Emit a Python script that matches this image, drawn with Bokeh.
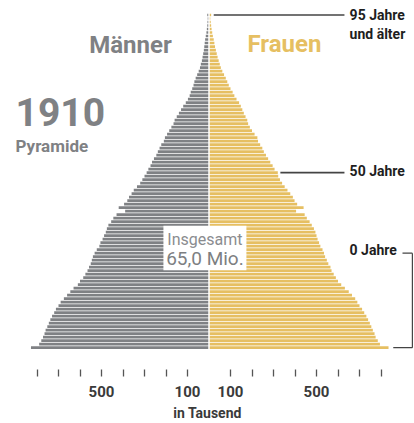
from bokeh.plotting import figure
from bokeh.models import FixedTicker, Label, BoxAnnotation, Span
from bokeh.embed import file_html
from bokeh.resources import INLINE

# ---- data (thousands of people, by age 0..95+) ----
ages = list(range(96))
male = [828, 790, 780, 772, 765, 760, 752, 745, 738, 730,
        720, 712, 700, 690, 675, 660, 645, 630, 610, 600,
        585, 575, 565, 558, 550, 545, 540, 532, 522, 510,
        505, 495, 488, 480, 475, 468, 455, 445, 430, 390,
        420, 395, 380, 372, 360, 350, 335, 320, 310, 300,
        290, 282, 272, 265, 256, 245, 238, 230, 222, 210,
        205, 195, 185, 175, 165, 160, 150, 140, 130, 120,
        108, 98, 90, 85, 78, 72, 68, 62, 55, 48,
        42, 38, 33, 30, 27, 24, 22, 20, 18, 15,
        12, 10, 8, 7, 6, 8]
female = [835, 795, 785, 775, 770, 762, 755, 748, 740, 732,
          722, 712, 700, 690, 680, 665, 650, 632, 615, 600,
          590, 580, 570, 565, 555, 548, 540, 535, 528, 518,
          512, 505, 500, 495, 488, 478, 468, 455, 445, 405,
          440, 410, 398, 390, 378, 365, 352, 340, 330, 322,
          320, 305, 296, 285, 275, 265, 255, 248, 238, 228,
          225, 212, 200, 190, 182, 178, 170, 162, 155, 148,
          140, 128, 118, 110, 100, 92, 85, 78, 70, 62,
          55, 50, 45, 40, 36, 32, 28, 25, 22, 18,
          15, 12, 10, 8, 6, 10]
tick_values = [-800, -700, -600, -500, -400, -300, -200, -100,
               100, 200, 300, 400, 500, 600, 700, 800]
tick_labels = {-500: "500", -100: "100", 100: "100", 500: "500"}
marked_ages = [95, 50, 0]
total_text = "65,0 Mio."

GRAY = "#7f8184"
GOLD = "#e6bf62"
DARK = "#1e1e1e"
FONT = "Roboto"

W, H = 414, 423
PX = 0.215          # px per thousand
CX = 208.5          # frame px of zero
FH = 372            # expected frame height
Y0 = 350            # frame px (from top) of age 0
PY = 3.53           # px per year

p = figure(width=W, height=H, output_backend="svg", toolbar_location=None,
           x_range=(-CX / PX, (W - CX) / PX),
           y_range=(-(FH - Y0) / PY, Y0 / PY),
           y_axis_location=None, min_border=0,
           outline_line_color=None, background_fill_color="white")
p.xgrid.visible = False
p.ygrid.visible = False

p.hbar(y=ages, left=[-v for v in male], right=0, height=0.76,
       color=GRAY, line_color=None)
p.hbar(y=ages, left=0, right=female, height=0.76,
       color=GOLD, line_color=None)
p.add_layout(Span(location=0, dimension="height", line_color="white",
                  line_width=1.5))

# axis
ax = p.xaxis[0]
ax.ticker = FixedTicker(ticks=tick_values)
ax.major_label_overrides = {v: tick_labels.get(v, "") for v in tick_values}
ax.axis_line_color = None
ax.minor_tick_line_color = None
ax.major_tick_in = 0
ax.major_tick_out = 7
ax.major_tick_line_color = "#555555"
ax.major_tick_line_width = 1.3
ax.major_label_standoff = 9
ax.major_label_text_font = FONT
ax.major_label_text_font_style = "bold"
ax.major_label_text_font_size = "15px"
ax.major_label_text_color = "#3a3a3a"
ax.axis_label = "in Tausend"
ax.axis_label_standoff = 5
ax.axis_label_text_font = FONT
ax.axis_label_text_font_style = "bold"
ax.axis_label_text_font_size = "14px"
ax.axis_label_text_color = "#3a3a3a"

def lab(x, y, t, size, color, align="left", style="bold"):
    p.add_layout(Label(x=x, y=y, text=t, text_font=FONT, text_font_size=size,
                       text_color=color, text_font_style=style,
                       text_align=align, text_baseline="middle"))

lab(-365, 86.4, "Männer", "24px", GRAY, "center")
lab(351, 86.6, "Frauen", "24px", GOLD, "center")
lab(-900, 67.3, "1910", "39px", GRAY)
lab(-900, 57.5, "Pyramide", "17px", GRAY)

# total box
p.add_layout(BoxAnnotation(left=-212, right=174, bottom=22.1, top=34.8,
                           fill_color="white", fill_alpha=1, line_color=None))
lab(-19, 31.0, "Insgesamt", "16px", "#8a8c8f", "center", "normal")
lab(-19, 25.5, total_text, "19px", "#7d7f82", "center", "normal")

# right-hand age markers
a95, a50, a0 = marked_ages
p.segment(x0=[female[a95] + 12, female[a50] + 12], y0=[a95, a50],
          x1=[630, 630], y1=[a95, a50], line_color="#444444", line_width=1.6)
lab(654, 94.9, "95 Jahre", "14px", DARK)
lab(654, 89.7, "und älter", "14px", DARK)
lab(654, a50 + 0.4, "50 Jahre", "14px", DARK)
lab(654, 27.8, "0 Jahre", "14px", DARK)
p.segment(x0=[900, 946, female[a0] + 22], y0=[27.0, 27.0, a0],
          x1=[946, 946, 946], y1=[27.0, a0, a0],
          line_color="#444444", line_width=1.2)

open("out.html", "w").write(file_html(p, INLINE))
